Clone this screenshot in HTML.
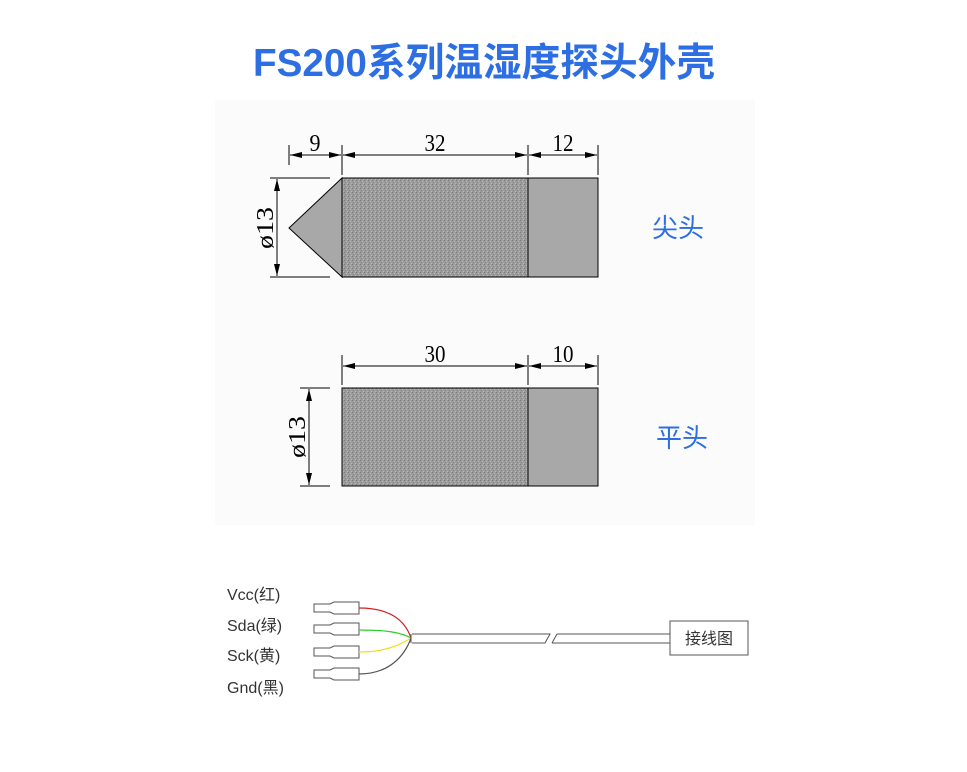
<!DOCTYPE html>
<html><head><meta charset="utf-8"><style>
body{margin:0;background:#fff;}
svg{display:block}
</style></head><body>
<svg width="967" height="772" xmlns="http://www.w3.org/2000/svg">
<defs>
<pattern id="tex" width="4" height="4" patternUnits="userSpaceOnUse">
<rect width="4" height="4" fill="#9c9c9c"/>
<rect x="0" y="0" width="1" height="1" fill="#7a7a7a"/>
<rect x="2" y="1" width="1" height="1" fill="#bcbcbc"/>
<rect x="1" y="2" width="1" height="1" fill="#858585"/>
<rect x="3" y="3" width="1" height="1" fill="#b8b8b8"/>
</pattern>
<marker id="ar" markerWidth="12" markerHeight="6" refX="12" refY="3" orient="auto-start-reverse" markerUnits="userSpaceOnUse"><path d="M0,0 L12,3 L0,6z" fill="#000"/></marker>
</defs>
<rect x="215" y="100" width="540" height="425" fill="#fbfbfb"/>
<text x="484" y="76" text-anchor="middle" font-family="'Liberation Sans','Noto Sans CJK SC',sans-serif" font-size="39" font-weight="bold" fill="#2d6fe3" textLength="462" lengthAdjust="spacingAndGlyphs">FS200系列温湿度探头外壳</text>
<g stroke="#000" stroke-width="1" fill="none">
<line x1="289" y1="145" x2="289" y2="165"/><line x1="342" y1="145" x2="342" y2="175"/>
<line x1="528" y1="145" x2="528" y2="175"/><line x1="598" y1="145" x2="598" y2="175"/>
<line x1="290" y1="155" x2="341" y2="155" marker-start="url(#ar)" marker-end="url(#ar)"/>
<line x1="343" y1="155" x2="527" y2="155" marker-start="url(#ar)" marker-end="url(#ar)"/>
<line x1="529" y1="155" x2="597" y2="155" marker-start="url(#ar)" marker-end="url(#ar)"/>
<line x1="270" y1="178" x2="330" y2="178"/><line x1="270" y1="277" x2="330" y2="277"/>
<line x1="277" y1="179" x2="277" y2="276" marker-start="url(#ar)" marker-end="url(#ar)"/>
<polygon points="342,178 289,228 342,277" fill="#a8a8a8"/>
<rect x="342" y="178" width="186" height="99" fill="url(#tex)"/>
<rect x="528" y="178" width="70" height="99" fill="#a8a8a8"/>
<line x1="342" y1="355" x2="342" y2="385"/><line x1="528" y1="355" x2="528" y2="385"/><line x1="598" y1="355" x2="598" y2="385"/>
<line x1="343" y1="366" x2="527" y2="366" marker-start="url(#ar)" marker-end="url(#ar)"/>
<line x1="529" y1="366" x2="597" y2="366" marker-start="url(#ar)" marker-end="url(#ar)"/>
<line x1="300" y1="388" x2="330" y2="388"/><line x1="300" y1="486" x2="330" y2="486"/>
<line x1="309" y1="389" x2="309" y2="485" marker-start="url(#ar)" marker-end="url(#ar)"/>
<rect x="342" y="388" width="186" height="98" fill="url(#tex)"/>
<rect x="528" y="388" width="70" height="98" fill="#a8a8a8"/>
</g>
<g font-family="'Liberation Serif',serif" font-size="24" fill="#000" text-anchor="middle">
<text x="315" y="151" textLength="11" lengthAdjust="spacingAndGlyphs">9</text>
<text x="435" y="151" textLength="21" lengthAdjust="spacingAndGlyphs">32</text>
<text x="563" y="151" textLength="21" lengthAdjust="spacingAndGlyphs">12</text>
<text x="435" y="362" textLength="21" lengthAdjust="spacingAndGlyphs">30</text>
<text x="563" y="362" textLength="21" lengthAdjust="spacingAndGlyphs">10</text>
<text transform="translate(273,228) rotate(-90)" textLength="42" lengthAdjust="spacingAndGlyphs">ø13</text>
<text transform="translate(305,437) rotate(-90)" textLength="42" lengthAdjust="spacingAndGlyphs">ø13</text>
</g>
<g font-family="'Liberation Sans','Noto Sans CJK SC',sans-serif" font-size="26" fill="#2d6fe3">
<text x="652" y="237">尖头</text><text x="656" y="447">平头</text>
</g>
<g font-family="'Liberation Sans','Noto Sans CJK SC',sans-serif" font-size="16" fill="#333">
<text x="227" y="600">Vcc(红)</text><text x="227" y="631">Sda(绿)</text>
<text x="227" y="661">Sck(黄)</text><text x="227" y="693">Gnd(黑)</text>
</g>
<g stroke="#555" fill="#fff" stroke-width="1">
<path d="M314,604 h16 l4,-2 h25 v12 h-25 l-4,-2 h-16z"/>
<path d="M314,625 h16 l4,-2 h25 v12 h-25 l-4,-2 h-16z"/>
<path d="M314,648 h16 l4,-2 h25 v12 h-25 l-4,-2 h-16z"/>
<path d="M314,670 h16 l4,-2 h25 v12 h-25 l-4,-2 h-16z"/>
</g>
<g fill="none" stroke-width="1.2">
<path d="M359,608 C390,608 405,620 411,638" stroke="#d42020"/>
<path d="M359,630 C385,630 400,632 411,638" stroke="#2ecc2e"/>
<path d="M359,652 C385,652 400,645 411,638" stroke="#f0e020"/>
<path d="M359,674 C390,674 405,655 411,638" stroke="#555"/>
</g>
<g stroke="#555" fill="none" stroke-width="1">
<path d="M412,634 L550,634 L545,643 L412,643"/>
<path d="M557,634 L670,634 M552,643 L670,643 M557,634 L552,643"/>
<line x1="411" y1="634" x2="411" y2="643"/>
<rect x="670" y="621" width="78" height="34" fill="#fff"/>
</g>
<text x="709" y="644" text-anchor="middle" font-family="'Liberation Sans','Noto Sans CJK SC',sans-serif" font-size="16" fill="#333">接线图</text>
</svg>
</body></html>
